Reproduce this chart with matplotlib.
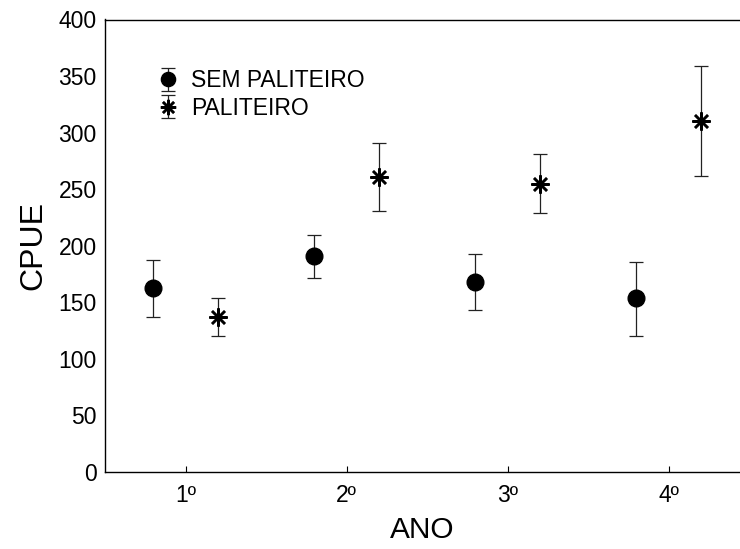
import matplotlib
matplotlib.use("Agg")
import matplotlib.pyplot as plt
import numpy as np
from matplotlib.lines import Line2D

plt.rcParams['font.family'] = ['Liberation Sans', 'DejaVu Sans']

anos = ["1º", "2º", "3º", "4º"]
sem_mean = [162.7, 190.7, 168.0, 153.4]
sem_low = [137.1, 171.9, 143.0, 120.4]
sem_high = [187.8, 209.3, 192.5, 185.2]
pal_mean = [137.1, 260.8, 254.9, 309.9]
pal_low = [120.4, 230.7, 229.0, 261.6]
pal_high = [153.9, 290.8, 281.4, 358.8]

fig = plt.figure(figsize=(7.4, 5.49), dpi=100)
ax = fig.add_axes([105/740, 1-472/549, 1-105/740, (472-19.5)/549])

x = np.arange(1, len(anos)+1)
sm = np.array(sem_mean); pm = np.array(pal_mean)
e1 = ax.errorbar(x-0.2, sm, yerr=[sm-np.array(sem_low), np.array(sem_high)-sm],
                 fmt='o', color='black', ms=12, ecolor='#222222', elinewidth=0.9,
                 capsize=5, capthick=0.9, label='SEM PALITEIRO')
ax.errorbar(x+0.2, pm, yerr=[pm-np.array(pal_low), np.array(pal_high)-pm],
            fmt='none', ecolor='#222222', elinewidth=0.9,
            capsize=5, capthick=0.9)
ax.plot(x+0.2, pm, linestyle='none', marker=(8, 2, 0), ms=13, color='black',
        markeredgewidth=1.8)

e2h = ax.errorbar([np.nan], [np.nan], yerr=[[1], [1]], fmt='none', ecolor='#222222',
                  elinewidth=0.9, capsize=5, capthick=0.9)
star = Line2D([], [], linestyle='none', marker=(8, 2, 0), ms=13, color='black',
              markeredgewidth=1.8)

ax.set_xlim(0.5, 0.5 + (740-105)/161)
ax.set_ylim(0, 400)
ax.set_yticks(np.arange(0, 401, 50))
ax.set_xticks(x)
ax.set_xticklabels(anos)
ax.tick_params(axis='y', length=0, pad=6, labelsize=16.5)
ax.tick_params(axis='x', direction='in', length=4, width=0.8, pad=9, labelsize=16.5)
ax.spines['right'].set_visible(False)
for s in ['left', 'bottom', 'top']:
    ax.spines[s].set_linewidth(1.0)
ax.set_xlabel('ANO', fontsize=21.5, labelpad=6)
ax.set_ylabel('CPUE', fontsize=23, labelpad=7)

ax.legend([e1, (e2h, star)], ['SEM PALITEIRO', 'PALITEIRO'],
          loc='upper left', bbox_to_anchor=(0.067, 0.91), frameon=False,
          fontsize=16.5, handlelength=1.0, handletextpad=0.5, labelspacing=0.2,
          borderaxespad=0, markerscale=0.85)

fig.savefig('out.png', dpi=100)
